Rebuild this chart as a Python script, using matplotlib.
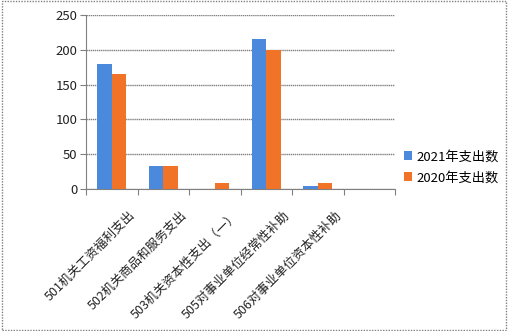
import numpy as np
import matplotlib
matplotlib.use("Agg")
import matplotlib.pyplot as plt
from matplotlib.patches import Rectangle

plt.rcParams['font.family'] = ['Noto Sans CJK SC', 'DejaVu Sans']

categories = ["501机关工资福利支出", "502机关商品和服务支出", "503机关资本性支出（一）",
              "505对事业单位经常性补助", "506对事业单位资本性补助", ""]
spend_2021 = [180, 33, 0, 215, 5, 0]
spend_2020 = [165, 33, 9, 200, 8, 0]
series_names = ["2021年支出数", "2020年支出数"]
yticks = [0, 50, 100, 150, 200, 250]

blue = '#4a89dc'
orange = '#f07328'

fig = plt.figure(figsize=(5.08, 3.31), dpi=100)
ax = fig.add_axes([86 / 508, 1 - 189 / 331, (395 - 86) / 508, (189 - 15) / 331])

x = np.arange(len(categories))
w = 0.285
ax.bar(x - w / 2, spend_2021, w, color=blue, label=series_names[0], zorder=3)
ax.bar(x + w / 2, spend_2020, w, color=orange, label=series_names[1], zorder=3)

ax.set_xlim(-0.5, len(categories) - 0.5)
ax.set_ylim(0, 250)
ax.set_yticks(yticks)
ax.tick_params(axis='y', length=4, labelsize=9.5, colors='#808080', labelcolor='#222222', pad=2)
ax.yaxis.grid(True, color='#808080', linewidth=1, linestyle=(0, (1, 0.5)), zorder=0)

# category boundary ticks
ax.set_xticks(np.arange(len(categories) + 1) - 0.5, minor=False)
ax.set_xticklabels([])
ax.tick_params(axis='x', length=4, direction='out', colors='#808080')
for i, lab in enumerate(categories):
    ax.text(i + 0.33, -28, lab, rotation=45, ha='right', va='top', rotation_mode='anchor',
            fontsize=9, color='#222222', transform=ax.transData, clip_on=False)

for s in ['top', 'right']:
    ax.spines[s].set_visible(False)
ax.spines['left'].set_color('#808080')
ax.spines['bottom'].set_color('#808080')

ax.legend(loc='center left', bbox_to_anchor=(0.99, 0.125), frameon=False, fontsize=9.5,
          handlelength=0.6, handleheight=0.6, handletextpad=0.35, labelspacing=0.6)

fig.patches.append(Rectangle((0.003, 0.004), 0.993, 0.992, transform=fig.transFigure,
                             fill=False, edgecolor='#808080', linewidth=1, linestyle=(0, (1, 1))))

fig.savefig('out.png', dpi=100)
